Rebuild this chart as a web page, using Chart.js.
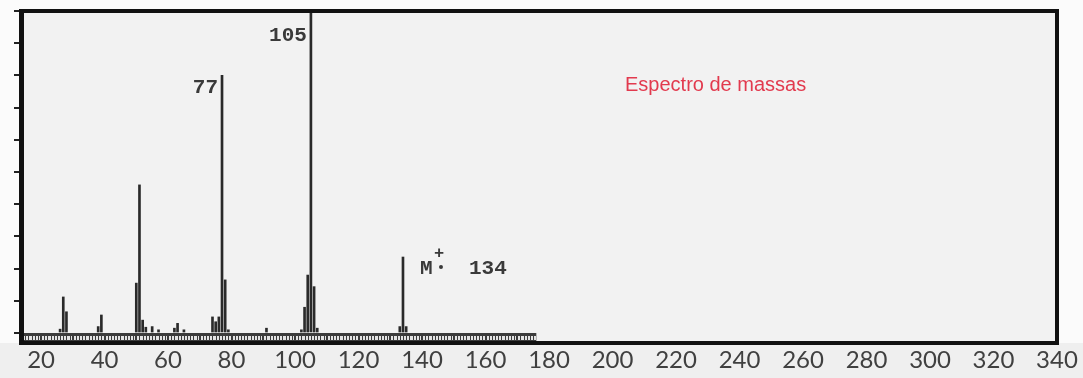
<!DOCTYPE html>
<html>
<head>
<meta charset="utf-8">
<script src="https://cdn.jsdelivr.net/npm/chart.js@4/dist/chart.umd.min.js"></script>
<style>
  html, body { margin: 0; padding: 0; background: #fbfbfb; }
  #wrap { width: 1083px; height: 378px; }
</style>
</head>
<body>
<div id="wrap"><canvas id="spectrum" width="1083" height="378"></canvas></div>
<script>
// m/z values and relative intensities (%)
const mz = [26, 27, 28, 38, 39, 50, 51, 52, 53, 55, 57, 62, 63, 65, 74, 75, 76, 77, 78, 79, 91, 102, 103, 104, 105, 106, 107, 133, 134, 135];
const intensity = [1.2, 11.2, 6.6, 2, 5.6, 15.5, 46, 4, 1.8, 2, 1, 1.5, 3, 1, 5, 3.5, 5, 80, 16.5, 1, 1.5, 1, 8, 18, 100, 14.4, 1.5, 2, 23.6, 2];

const xTicks = [20, 40, 60, 80, 100, 120, 140, 160, 180, 200, 220, 240, 260, 280, 300, 320, 340];
const yTicks = [0, 10, 20, 30, 40, 50, 60, 70, 80, 90, 100];

const peakLabels = [
    { m: 77, text: '77' },
    { m: 105, text: '105' }
];
const molecularIon = { m: 134, text: '134' };
const chartTitle = 'Espectro de massas';
const rulerEnd = 176;

const spectrumPlugin = {
    id: 'spectrumDecor',
    beforeDraw(chart) {
        const ctx = chart.ctx;
        const a = chart.chartArea;
        ctx.save();
        ctx.fillStyle = '#fbfbfb';
        ctx.fillRect(0, 0, chart.width, chart.height);
        ctx.fillStyle = '#efefef';
        ctx.fillRect(0, a.bottom, chart.width, chart.height - a.bottom);
        ctx.fillStyle = '#f2f2f2';
        ctx.fillRect(a.left, a.top, a.right - a.left, a.bottom - a.top);
        ctx.restore();
    },
    afterDatasetsDraw(chart) {
        const ctx = chart.ctx;
        const a = chart.chartArea;
        const xs = chart.scales.x;
        const ys = chart.scales.y;
        const y0 = Math.round(ys.getPixelForValue(0));
        ctx.save();

        // ruler strip under the baseline: dark band with light dashes
        const xEnd = xs.getPixelForValue(rulerEnd);
        ctx.fillStyle = '#3c3c3c';
        ctx.fillRect(a.left, y0, xEnd - a.left, a.bottom - y0);
        ctx.fillStyle = '#e4e4e4';
        for (let m = 14; m < rulerEnd; m++) {
            const p1 = Math.round(xs.getPixelForValue(m)) + 1;
            const p2 = Math.round(xs.getPixelForValue(m + 1));
            if ((m + 1) % 10 === 0) {
                ctx.fillRect(p1, y0 + 3, p2 - p1 - 1, 4);
            } else {
                ctx.fillRect(p1, y0 + 3, p2 - p1, 4);
            }
        }

        // thick frame
        ctx.strokeStyle = '#111';
        ctx.lineWidth = 4;
        ctx.strokeRect(a.left, a.top, a.right - a.left, a.bottom - a.top);
        ctx.fillStyle = '#111';
        ctx.fillRect(a.left - 3, a.top - 2, 4, a.bottom - a.top + 4);
        ctx.fillRect(a.left - 2, a.bottom - 1, a.right - a.left + 3, 3);

        // peak labels
        ctx.fillStyle = '#3a3a3a';
        ctx.font = 'bold 21px "Liberation Mono", monospace';
        ctx.textAlign = 'right';
        ctx.textBaseline = 'top';
        peakLabels.forEach(p => {
            const i = mz.indexOf(p.m);
            const px = xs.getPixelForValue(p.m);
            const top = Math.max(ys.getPixelForValue(intensity[i]), a.top + 12);
            ctx.fillText(p.text, px - 4, top + 2);
        });

        // molecular ion label M+. 134
        const mi = mz.indexOf(molecularIon.m);
        const mx = xs.getPixelForValue(molecularIon.m) + 17;
        const my = ys.getPixelForValue(intensity[mi]) + 1;
        ctx.textAlign = 'left';
        ctx.fillText('M', mx, my);
        ctx.font = 'bold 17px "Liberation Mono", monospace';
        ctx.fillText('+', mx + 14, my - 13);
        ctx.beginPath();
        ctx.arc(mx + 21, my + 9, 2, 0, Math.PI * 2);
        ctx.fill();
        ctx.font = 'bold 21px "Liberation Mono", monospace';
        ctx.fillText(molecularIon.text, mx + 49, my);

        // title
        ctx.fillStyle = '#e23a4e';
        ctx.font = '20px "Liberation Sans", Arial, sans-serif';
        ctx.textBaseline = 'middle';
        ctx.fillText(chartTitle, 625, 85);
        ctx.restore();
    }
};

const ctx = document.getElementById('spectrum').getContext('2d');
new Chart(ctx, {
    type: 'bar',
    data: {
        datasets: [{
            data: mz.map((m, i) => ({ x: m, y: intensity[i] })),
            backgroundColor: '#2a2a2a',
            barThickness: 2
        }]
    },
    options: {
        responsive: false,
        animation: false,
        devicePixelRatio: 1,
        layout: { padding: { top: 11, right: 26, left: 0, bottom: 0 } },
        plugins: {
            legend: { display: false },
            tooltip: { enabled: false }
        },
        scales: {
            x: {
                type: 'linear',
                min: 14,
                max: 340,
                offset: false,
                grid: { display: false, drawTicks: false },
                border: { display: false },
                afterBuildTicks: scale => { scale.ticks = xTicks.map(v => ({ value: v })); },
                afterFit: scale => { scale.height = 35; },
                ticks: {
                    autoSkip: false,
                    maxRotation: 0,
                    padding: 3,
                    color: '#404040',
                    font: { family: 'Lato', size: 24 }
                }
            },
            y: {
                min: -3.1,
                max: 100,
                border: { display: false },
                afterBuildTicks: scale => { scale.ticks = yTicks.map(v => ({ value: v })); },
                afterFit: scale => { scale.width = 22; },
                grid: {
                    drawOnChartArea: false,
                    drawTicks: true,
                    tickLength: 8,
                    color: '#222',
                    lineWidth: 2
                },
                ticks: { display: false }
            }
        }
    },
    plugins: [spectrumPlugin]
});
</script>
</body>
</html>
